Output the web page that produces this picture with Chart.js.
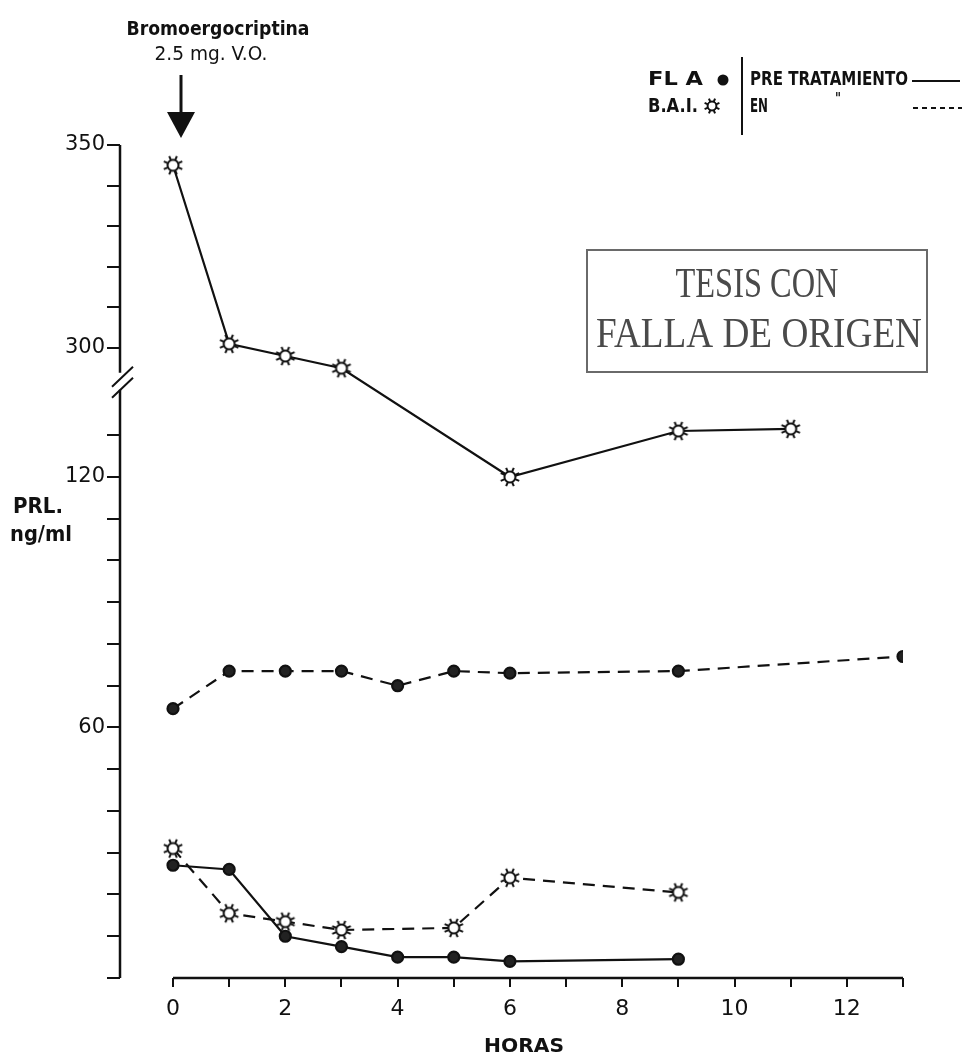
<!DOCTYPE html>
<html lang="es">
<head>
<meta charset="UTF-8">
<title>PRL - Bromoergocriptina</title>
<script src="https://cdn.jsdelivr.net/npm/chart.js"></script>
<style>
  html, body { margin: 0; padding: 0; background: #fff; }
  #wrap { width: 974px; height: 1064px; position: relative; }
</style>
</head>
<body>
<div id="wrap"><canvas id="prlChart"></canvas></div>
<script>
// PRL (ng/ml) por hora
const flaPreHoras = [0, 1, 2, 3, 4, 5, 6, 9];
const flaPreValores = [27, 26, 10, 7.5, 5, 5, 4, 4.5];
const flaEnHoras = [0, 1, 2, 3, 4, 5, 6, 9, 13];
const flaEnValores = [64.5, 73.5, 73.5, 73.5, 70, 73.5, 73, 73.5, 77];
const baiPreHoras = [0, 1, 2, 3, 6, 9, 11];
const baiPreValores = [345, 301, 298, 295, 120, 131, 131.5];
const baiEnHoras = [0, 1, 2, 3, 5, 6, 9];
const baiEnValores = [31, 15.5, 13.5, 11.5, 12, 24, 20.5];

// ejes
const yTicksBajos = [0, 10, 20, 30, 40, 50, 60, 70, 80, 90, 100, 110, 120, 130];
const yTicksAltos = [300, 310, 320, 330, 340, 350];
const yEtiquetas = [60, 120, 300, 350];
const xTicks = [0, 1, 2, 3, 4, 5, 6, 7, 8, 9, 10, 11, 12, 13];
const xEtiquetas = [0, 2, 4, 6, 8, 10, 12];

// eje con corte: los valores de 300 en adelante se bajan al tramo superior
function eje(v) {
    return v >= 200 ? 150.9 + (v - 300) * 0.972 : v;
}
const yTicksTodos = yTicksBajos.concat(yTicksAltos);

function puntos(horas, valores) {
    return horas.map((h, i) => ({ x: h, y: eje(valores[i]) }));
}

// marcador tipo "sol" para B.A.I.
function hacerSol(r) {
    const c = document.createElement('canvas');
    c.width = c.height = 24;
    const g = c.getContext('2d');
    g.translate(12, 12);
    g.strokeStyle = '#111';
    g.lineWidth = 2;
    for (let i = 0; i < 8; i++) {
        const a = i * Math.PI / 4 + Math.PI / 8;
        g.beginPath();
        g.moveTo(Math.cos(a) * r * 0.55, Math.sin(a) * r * 0.55);
        g.lineTo(Math.cos(a) * r, Math.sin(a) * r);
        g.stroke();
    }
    g.beginPath();
    g.arc(0, 0, r * 0.55, 0, Math.PI * 2);
    g.fillStyle = '#fff';
    g.fill();
    g.stroke();
    return c;
}
const sol = hacerSol(10);
const solChico = hacerSol(8);

const tinta = '#111';

function textoAjustado(ctx, s, x, y, w, font, align) {
    ctx.save();
    ctx.font = font;
    ctx.textBaseline = 'middle';
    ctx.textAlign = 'left';
    const m = ctx.measureText(s).width;
    const sx = w / m;
    let x0 = x;
    if (align === 'center') x0 = x - w / 2;
    ctx.translate(x0, y);
    ctx.scale(sx, 1);
    ctx.fillText(s, 0, 0);
    ctx.restore();
}

const decoracion = {
    id: 'decoracion',
    afterDraw(chart) {
        const ctx = chart.ctx;
        const xs = chart.scales.x, ys = chart.scales.y;
        const area = chart.chartArea;
        ctx.save();
        ctx.strokeStyle = tinta;
        ctx.fillStyle = tinta;
        ctx.lineWidth = 2.5;

        // eje Y con corte
        const ax = area.left;
        const yb = ys.getPixelForValue(142.8);
        ctx.beginPath();
        ctx.moveTo(ax, area.bottom);
        ctx.lineTo(ax, yb + 8);
        ctx.moveTo(ax, yb - 9);
        ctx.lineTo(ax, area.top);
        ctx.stroke();
        ctx.lineWidth = 2;
        ctx.beginPath();
        ctx.moveTo(ax - 8, yb + 5);
        ctx.lineTo(ax + 13, yb - 15);
        ctx.moveTo(ax - 8, yb + 16);
        ctx.lineTo(ax + 13, yb - 4);
        ctx.stroke();

        // eje X
        ctx.lineWidth = 2.5;
        ctx.beginPath();
        ctx.moveTo(xs.getPixelForValue(0), area.bottom);
        ctx.lineTo(xs.getPixelForValue(13), area.bottom);
        ctx.stroke();

        // rotulos
        ctx.fillStyle = tinta;
        textoAjustado(ctx, 'HORAS', 524, 1047, 80, 'bold 19px "DejaVu Sans"', 'center');
        textoAjustado(ctx, 'PRL.', 13, 508, 50, 'bold 21px "DejaVu Sans"', 'left');
        textoAjustado(ctx, 'ng/ml', 10, 536, 62, 'bold 21px "DejaVu Sans"', 'left');

        // flecha de la dosis
        textoAjustado(ctx, 'Bromoergocriptina', 218, 30, 183, 'bold 19px "DejaVu Sans"', 'center');
        textoAjustado(ctx, '2.5 mg. V.O.', 211, 55, 113, '19px "DejaVu Sans"', 'center');
        const fx = 181;
        ctx.lineWidth = 3;
        ctx.beginPath();
        ctx.moveTo(fx, 75);
        ctx.lineTo(fx, 116);
        ctx.stroke();
        ctx.beginPath();
        ctx.moveTo(fx - 14, 112);
        ctx.lineTo(fx + 14, 112);
        ctx.lineTo(fx, 138);
        ctx.closePath();
        ctx.fill();

        // leyenda
        const f = 'bold 20px "DejaVu Sans"';
        textoAjustado(ctx, 'FL A', 648, 80, 55, f, 'left');
        ctx.beginPath();
        ctx.arc(723, 80, 5.5, 0, Math.PI * 2);
        ctx.fill();
        ctx.lineWidth = 2;
        ctx.beginPath();
        ctx.moveTo(742, 57);
        ctx.lineTo(742, 135);
        ctx.stroke();
        textoAjustado(ctx, 'PRE TRATAMIENTO', 750, 80, 158, f, 'left');
        ctx.beginPath();
        ctx.moveTo(912, 81);
        ctx.lineTo(960, 81);
        ctx.stroke();
        textoAjustado(ctx, 'B.A.I.', 648, 107, 50, f, 'left');
        ctx.drawImage(solChico, 712 - 12, 106 - 12);
        textoAjustado(ctx, 'EN', 750, 107, 18, f, 'left');
        textoAjustado(ctx, '"', 835, 100, 6, 'bold 16px "DejaVu Sans"', 'left');
        ctx.setLineDash([5, 4]);
        ctx.beginPath();
        ctx.moveTo(913, 108);
        ctx.lineTo(962, 108);
        ctx.stroke();
        ctx.setLineDash([]);

        // sello
        ctx.strokeStyle = '#6a6a6a';
        ctx.lineWidth = 2;
        ctx.strokeRect(587, 250, 340, 122);
        ctx.fillStyle = '#4a4a4a';
        ctx.save();
        ctx.translate(0, 286);
        ctx.scale(1, 1.3);
        textoAjustado(ctx, 'TESIS CON', 757, 0, 163, '32px "Liberation Serif"', 'center');
        ctx.restore();
        ctx.save();
        ctx.translate(0, 336);
        ctx.scale(1, 1.3);
        textoAjustado(ctx, 'FALLA DE ORIGEN', 759, 0, 326, '32px "Liberation Serif"', 'center');
        ctx.restore();

        ctx.restore();
    }
};

new Chart(document.getElementById('prlChart'), {
    type: 'line',
    data: {
        datasets: [
            {
                label: 'B.A.I. pre tratamiento',
                data: puntos(baiPreHoras, baiPreValores),
                borderColor: tinta, borderWidth: 2.2,
                pointStyle: sol, pointRadius: 10
            },
            {
                label: 'B.A.I. en tratamiento',
                data: puntos(baiEnHoras, baiEnValores),
                borderColor: tinta, borderWidth: 2.2, borderDash: [12, 8],
                pointStyle: sol, pointRadius: 10
            },
            {
                label: 'F.L.A. pre tratamiento',
                data: puntos(flaPreHoras, flaPreValores),
                borderColor: tinta, borderWidth: 2.2,
                pointStyle: 'circle', pointRadius: 5.5,
                pointBackgroundColor: '#222', pointBorderColor: tinta
            },
            {
                label: 'F.L.A. en tratamiento',
                data: puntos(flaEnHoras, flaEnValores),
                borderColor: tinta, borderWidth: 2.2, borderDash: [12, 8],
                pointStyle: 'circle', pointRadius: 5.5,
                pointBackgroundColor: '#222', pointBorderColor: tinta
            }
        ]
    },
    options: {
        responsive: true,
        maintainAspectRatio: false,
        animation: false,
        layout: { padding: { top: 145, right: 71, left: 0, bottom: 0 } },
        plugins: { legend: { display: false }, tooltip: { enabled: false } },
        scales: {
            x: {
                type: 'linear',
                min: -0.944,
                max: 13,
                afterBuildTicks: s => { s.ticks = xTicks.map(v => ({ value: v })); },
                afterFit: s => { s.height = 86; },
                border: { display: false },
                grid: { display: true, drawOnChartArea: false, drawTicks: true, tickLength: 9, color: tinta, lineWidth: 2 },
                ticks: {
                    padding: 9,
                    color: tinta,
                    font: { family: 'DejaVu Sans', size: 22 },
                    callback: v => xEtiquetas.includes(v) ? String(v) : ''
                }
            },
            y: {
                type: 'linear',
                min: 0,
                max: 199.5,
                afterBuildTicks: s => { s.ticks = yTicksTodos.map(v => ({ value: eje(v) })); },
                afterFit: s => { s.width = 120; },
                border: { display: false },
                grid: { display: true, drawOnChartArea: false, drawTicks: true, tickLength: 13, color: tinta, lineWidth: 2 },
                ticks: {
                    padding: 2,
                    color: tinta,
                    font: { family: 'DejaVu Sans', size: 21 },
                    callback: (v, i) => yEtiquetas.includes(yTicksTodos[i]) ? String(yTicksTodos[i]) : ''
                }
            }
        }
    },
    plugins: [decoracion]
});
</script>
</body>
</html>
